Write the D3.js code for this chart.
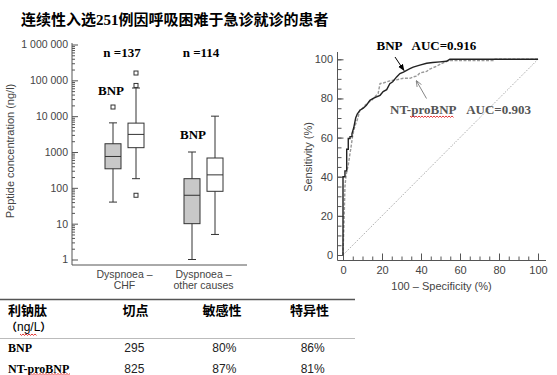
<!DOCTYPE html>
<html>
<head>
<meta charset="utf-8">
<script src="https://cdnjs.cloudflare.com/ajax/libs/d3/7.8.5/d3.min.js"></script>
<style>
  body { margin: 0; background: #fff; }
  svg { display: block; }
  .axis .tick text { font-family: "Liberation Sans", Arial, sans-serif; fill: #444; }
  .axis line, .axisLine { stroke: #555; stroke-width: 1; }
  .sans { font-family: "Liberation Sans", Arial, sans-serif; fill: #444; }
  .serifB { font-family: "Liberation Serif", "Times New Roman", serif; font-weight: bold; }
  .cjk { font-family: "Liberation Serif", "Noto Sans CJK SC", sans-serif; font-weight: bold; }
</style>
</head>
<body>
<div id="chart"></div>
<script>

// data

var title = "连续性入选251例因呼吸困难于急诊就诊的患者";

// box plot: [min, q1, median, q3, max] per group
var groups = ["CHF", "other"],
    groupLabels = [["Dyspnoea –", "CHF"], ["Dyspnoea –", "other causes"]],
    groupCounts = ["n =137", "n =114"];

var bnpStats = [[40, 340, 750, 1700, 6500], [1, 10, 62, 180, 1000]],
    bnpOutliers = [[18000], []],
    ntStats = [[180, 1320, 3100, 6400, 61000], [5, 80, 230, 680, 10000]],
    ntOutliers = [[62, 72000, 160000], []];

var logTicks = [1, 10, 100, 1000, 10000, 100000, 1000000],
    logTickLabels = ["1", "10", "100", "1000", "10 000", "100 000", "1 000 000"];

// ROC curves: [100 - specificity, sensitivity]
var rocBnp = [[0,0],[0,40],[1,40],[1,43],[1.9,43],[1.9,54],[2.7,54],[2.7,59.5],[3.6,59.5],[3.6,60.5],
  [4.6,60.5],[4.6,62],[5.5,65],[6.5,70],[7.3,72],[8.7,74],[10.4,75],[12,76.5],[13.8,79],[15.5,80],
  [17.2,80.8],[19,81.6],[20.6,83.5],[22.4,84.5],[24,87.5],[25.5,88.5],[27.5,91],[29.2,92.7],[31,93.5],
  [34.3,95.2],[36,96],[39.4,97],[42.9,98],[46,98.4],[49.7,98.7],[53,99],[54.8,100],[100,100]];

var rocNt = [[0,0],[0.3,10],[0.6,19.5],[1,35],[1.5,40],[2,43],[2.7,46],[3.3,50],[4.1,55],[4.8,60],
  [5.6,64],[6.5,67],[7.3,69],[8.7,74],[10,75],[11.3,76.5],[13,78],[14.7,79],[16.5,81],[18,82.5],
  [19,87.6],[21,88],[24,89],[27.5,89.5],[30.9,90.3],[34.3,90.3],[36,91],[38,91.5],[39.4,93],
  [42.9,93.8],[44.5,95],[48,96.5],[49.7,97.4],[52,98.5],[54.8,99.4],[77,99.4],[77.5,100],[100,100]];

var rocTicks = [0, 20, 40, 60, 80, 100],
    rocMinorTicks = d3.range(0, 101, 5);

// table
var tableHead = ["切点", "敏感性", "特异性"],
    tableRows = ["BNP", "NT-proBNP"],
    tableCut = ["295", "825"],
    tableSens = ["80%", "87%"],
    tableSpec = ["86%", "81%"];

// svg

var svg = d3.select("#chart").append("svg")
  .attr("width", 557)
  .attr("height", 375);

// title

svg.append("text")
  .attr("class", "cjk")
  .attr("x", 21)
  .attr("y", 24.5)
  .style("font-size", "15px")
  .text(title);

// ---------- box plot ----------

var yLog = d3.scaleLog()
  .domain([1, 1000000])
  .range([259.5, 44.5]);

var xGroup = d3.scalePoint()
  .domain(groups)
  .range([124.5, 203.5]);

var boxW = 16, capW = 8, boxOff = 11.5;

var minorLog = [];
logTicks.slice(0, -1).forEach(function(t) {
  d3.range(2, 10).forEach(function(k) { minorLog.push(t * k); });
});

var left = svg.append("g");

left.append("g")
  .attr("class", "axis")
  .attr("transform", "translate(72,0)")
  .call(d3.axisLeft(yLog).tickValues(minorLog).tickSize(-3).tickFormat(""))
  .call(function(g) { g.select(".domain").remove(); });

left.append("g")
  .attr("class", "axis")
  .attr("transform", "translate(72,0)")
  .call(d3.axisLeft(yLog).tickValues(logTicks).tickSize(-6).tickPadding(4)
    .tickFormat(function(d, i) { return logTickLabels[i]; }))
  .call(function(g) {
    g.select(".domain").remove();
    g.selectAll("text").style("font-size", "10.5px");
  });

left.append("line").attr("class", "axisLine")
  .attr("x1", 72).attr("x2", 72).attr("y1", 265).attr("y2", 43);
left.append("line").attr("class", "axisLine")
  .attr("x1", 72).attr("x2", 247).attr("y1", 265).attr("y2", 265);

left.append("text")
  .attr("class", "sans")
  .attr("transform", "translate(14,151) rotate(-90)")
  .attr("text-anchor", "middle")
  .style("font-size", "11px")
  .text("Peptide concentration (ng/l)");

// draw one box

function drawBox(g, cx, s, outliers, fill) {
  g.append("line")
    .attr("x1", cx).attr("x2", cx)
    .attr("y1", yLog(s[0])).attr("y2", yLog(s[4]))
    .attr("stroke", "#333");
  [s[0], s[4]].forEach(function(v) {
    g.append("line")
      .attr("x1", cx - capW / 2).attr("x2", cx + capW / 2)
      .attr("y1", yLog(v)).attr("y2", yLog(v))
      .attr("stroke", "#333");
  });
  g.append("rect")
    .attr("x", cx - boxW / 2)
    .attr("y", yLog(s[3]))
    .attr("width", boxW)
    .attr("height", yLog(s[1]) - yLog(s[3]))
    .attr("fill", fill)
    .attr("stroke", "#333");
  g.append("line")
    .attr("x1", cx - boxW / 2).attr("x2", cx + boxW / 2)
    .attr("y1", yLog(s[2])).attr("y2", yLog(s[2]))
    .attr("stroke", "#333");
  g.selectAll(".out")
    .data(outliers)
    .enter()
      .append("rect")
        .attr("x", cx - 2)
        .attr("y", function(d) { return yLog(d) - 2; })
        .attr("width", 4)
        .attr("height", 4)
        .attr("fill", "#fff")
        .attr("stroke", "#333");
}

groups.forEach(function(gname, i) {
  var cx = xGroup(gname);
  drawBox(left, cx - boxOff, bnpStats[i], bnpOutliers[i], "#c8c8c8");
  drawBox(left, cx + boxOff, ntStats[i], ntOutliers[i], "#fff");

  left.append("text")
    .attr("class", "sans")
    .attr("text-anchor", "middle")
    .style("font-size", "10.5px")
    .selectAll("tspan")
    .data(groupLabels[i])
    .enter()
      .append("tspan")
        .attr("x", cx)
        .attr("y", function(d, j) { return 278 + j * 11; })
        .text(function(d) { return d; });

  left.append("text")
    .attr("class", "serifB")
    .attr("x", cx - 2.5)
    .attr("y", 57)
    .attr("text-anchor", "middle")
    .style("font-size", "13px")
    .text(groupCounts[i]);
});

left.append("text").attr("class", "serifB")
  .attr("x", 98).attr("y", 95).style("font-size", "13px").text("BNP");
left.append("text").attr("class", "serifB")
  .attr("x", 180).attr("y", 139).style("font-size", "13px").text("BNP");

// ---------- ROC curve ----------

var xr = d3.scaleLinear().domain([0, 100]).range([343, 538]),
    yr = d3.scaleLinear().domain([0, 100]).range([255, 59.3]);

var roc = svg.append("g");

roc.append("g")
  .attr("class", "axis")
  .attr("transform", "translate(0,260.5)")
  .call(d3.axisBottom(xr).tickValues(rocMinorTicks).tickSize(-4).tickFormat(""))
  .call(function(g) { g.select(".domain").remove(); });

roc.append("g")
  .attr("class", "axis")
  .attr("transform", "translate(0,260.5)")
  .call(d3.axisBottom(xr).tickValues(rocTicks).tickSize(-7).tickPadding(6))
  .call(function(g) {
    g.select(".domain").remove();
    g.selectAll("text").style("font-size", "11px");
  });

roc.append("g")
  .attr("class", "axis")
  .attr("transform", "translate(337.5,0)")
  .call(d3.axisLeft(yr).tickValues(rocMinorTicks).tickSize(-4).tickFormat(""))
  .call(function(g) { g.select(".domain").remove(); });

roc.append("g")
  .attr("class", "axis")
  .attr("transform", "translate(337.5,0)")
  .call(d3.axisLeft(yr).tickValues(rocTicks).tickSize(-6).tickPadding(4.5))
  .call(function(g) {
    g.select(".domain").remove();
    g.selectAll("text").style("font-size", "11px");
  });

roc.append("line").attr("class", "axisLine")
  .attr("x1", 337.5).attr("x2", 546).attr("y1", 260.5).attr("y2", 260.5);
roc.append("line").attr("class", "axisLine")
  .attr("x1", 337.5).attr("x2", 337.5).attr("y1", 260.5).attr("y2", 52);

roc.append("text")
  .attr("class", "sans")
  .attr("x", 441.5)
  .attr("y", 290)
  .attr("text-anchor", "middle")
  .style("font-size", "11px")
  .text("100 – Specificity (%)");

roc.append("text")
  .attr("class", "sans")
  .attr("transform", "translate(312,157) rotate(-90)")
  .attr("text-anchor", "middle")
  .style("font-size", "11px")
  .text("Sensitivity (%)");

// chance line

roc.append("line")
  .attr("x1", xr(0)).attr("y1", yr(0))
  .attr("x2", xr(100)).attr("y2", yr(100))
  .attr("stroke", "#777")
  .attr("stroke-width", 0.8)
  .attr("stroke-dasharray", "1,1.5");

var line = d3.line()
  .x(function(d) { return xr(d[0]); })
  .y(function(d) { return yr(d[1]); });

roc.append("path")
  .attr("d", line(rocNt))
  .attr("fill", "none")
  .attr("stroke", "#999")
  .attr("stroke-width", 1.4)
  .attr("stroke-dasharray", "3,1.5");

roc.append("path")
  .attr("d", line(rocBnp))
  .attr("fill", "none")
  .attr("stroke", "#222")
  .attr("stroke-width", 1.4);

// labels and arrows

var defs = svg.append("defs");

defs.append("marker")
  .attr("id", "headBlack")
  .attr("viewBox", "0 0 10 10")
  .attr("refX", 9).attr("refY", 5)
  .attr("markerWidth", 7).attr("markerHeight", 7)
  .attr("orient", "auto")
  .append("path")
    .attr("d", "M0,1L10,5L0,9Z")
    .attr("fill", "#000");

defs.append("marker")
  .attr("id", "headGray")
  .attr("viewBox", "0 0 10 10")
  .attr("refX", 9).attr("refY", 5)
  .attr("markerWidth", 7).attr("markerHeight", 7)
  .attr("orient", "auto")
  .append("path")
    .attr("d", "M0,1L10,5L0,9")
    .attr("fill", "none")
    .attr("stroke", "#777")
    .attr("stroke-width", 1.2);

roc.append("text").attr("class", "serifB")
  .attr("x", 376.5).attr("y", 50)
  .style("font-size", "13px")
  .text("BNP\u00a0\u00a0 AUC=0.916");

roc.append("line")
  .attr("x1", 395).attr("y1", 57)
  .attr("x2", 404).attr("y2", 70.5)
  .attr("stroke", "#000")
  .attr("stroke-width", 1)
  .attr("marker-end", "url(#headBlack)");

roc.append("text").attr("class", "serifB")
  .attr("x", 390).attr("y", 114)
  .attr("fill", "#555")
  .style("font-size", "13px")
  .text("NT-proBNP\u00a0\u00a0\u00a0AUC=0.903");

roc.append("line")
  .attr("x1", 426.5).attr("y1", 98.5)
  .attr("x2", 416.5).attr("y2", 81)
  .attr("stroke", "#777")
  .attr("stroke-width", 0.9)
  .attr("marker-end", "url(#headGray)");

// spell check squiggles

function wavy(x0, x1, y) {
  var p = "M" + x0 + "," + y, k = 0;
  for (var x = x0; x < x1; x += 1.5, k++) {
    p += "L" + (x + 1.5) + "," + (y + (k % 2 ? 0 : 1.4));
  }
  return p;
}

[[410, 453, 116], [20, 36, 334], [28, 70, 373.5]].forEach(function(w) {
  svg.append("path")
    .attr("d", wavy(w[0], w[1], w[2]))
    .attr("fill", "none")
    .attr("stroke", "#e02020")
    .attr("stroke-width", 0.9);
});

// ---------- table ----------

var table = svg.append("g");

var colX = [122.5, 202.5, 290],
    valX = [124.3, 212.3, 300.7];

table.append("line")
  .attr("x1", 0).attr("x2", 355).attr("y1", 299.5).attr("y2", 299.5)
  .attr("stroke", "#555").attr("stroke-width", 1.6);
table.append("line")
  .attr("x1", 0).attr("x2", 355).attr("y1", 338.5).attr("y2", 338.5)
  .attr("stroke", "#aaa").attr("stroke-width", 0.8);

table.append("text").attr("class", "cjk")
  .attr("x", 8).attr("y", 315)
  .style("font-size", "13px")
  .text("利钠肽");

table.append("text")
  .attr("x", 6).attr("y", 331)
  .style("font-family", "'Noto Sans CJK SC', sans-serif")
  .style("font-size", "11px")
  .style("font-weight", "bold")
  .text("（")
  .append("tspan")
    .style("font-family", "'Liberation Sans', Arial, sans-serif")
    .style("font-weight", "normal")
    .style("font-size", "12px")
    .text("ng/L")
  .select(function() { return this.parentNode; })
  .append("tspan")
    .text("）");

table.selectAll(".head")
  .data(tableHead)
  .enter()
    .append("text")
      .attr("class", "cjk")
      .attr("x", function(d, i) { return colX[i]; })
      .attr("y", 315)
      .style("font-size", "13px")
      .text(function(d) { return d; });

tableRows.forEach(function(r, i) {
  var y = 351.5 + i * 21.7;
  table.append("text").attr("class", "serifB")
    .attr("x", 8).attr("y", y)
    .style("font-size", "12px")
    .text(r);
  [tableCut[i], tableSens[i], tableSpec[i]].forEach(function(v, j) {
    table.append("text")
      .attr("x", valX[j]).attr("y", y)
      .attr("fill", "#222")
      .style("font-family", "'Liberation Sans', Arial, sans-serif")
      .style("font-size", "12px")
      .text(v);
  });
});

</script>
</body>
</html>
